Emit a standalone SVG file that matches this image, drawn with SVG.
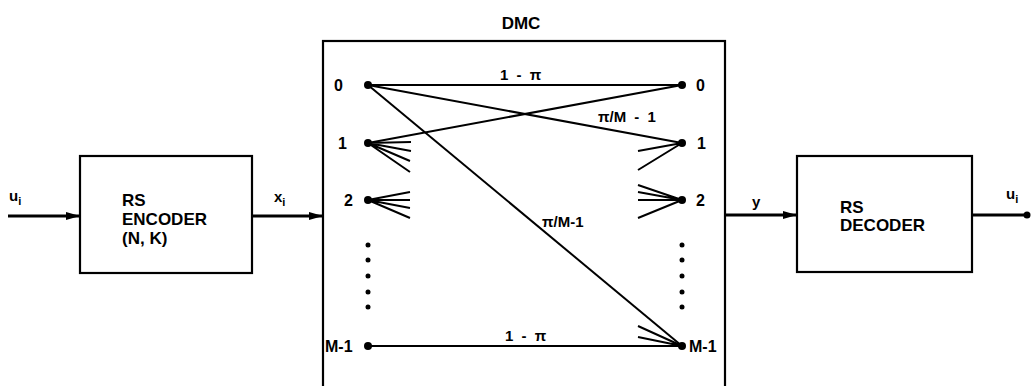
<svg xmlns="http://www.w3.org/2000/svg" width="1031" height="386" viewBox="0 0 1031 386">
<style>
text{font-family:"Liberation Sans",Arial,sans-serif;font-weight:bold;fill:#000}
.lbl{font-size:17px}
.nd{font-size:16px}
.sm{font-size:15px}
.pl{font-size:15px;word-spacing:4px}
.box{fill:none;stroke:#000;stroke-width:2.2}
.ln{stroke:#000;stroke-width:2;fill:none}
.th{stroke:#000;stroke-width:2.8;fill:none}
.dot{fill:#000}
</style>
<defs>
<marker id="arr" viewBox="0 0 14 10" refX="14" refY="5" markerWidth="14" markerHeight="10" markerUnits="userSpaceOnUse" orient="auto">
<path d="M0,1 L14,5 L0,9 Z" fill="#000"/>
</marker>
</defs>
<rect width="1031" height="386" fill="#fff"/>

<g id="encoder">
<rect class="box" x="80" y="156" width="172" height="117"/>
<text class="lbl" x="122" y="206">RS</text>
<text class="lbl" x="122" y="225">ENCODER</text>
<text class="lbl" x="122" y="244">(N, K)</text>
</g>

<g id="dmc">
<rect class="box" x="323" y="41" width="402" height="360"/>
<text class="lbl" x="521" y="29" text-anchor="middle">DMC</text>
</g>

<g id="decoder">
<rect class="box" x="797" y="156" width="175" height="116"/>
<text class="lbl" x="840" y="213">RS</text>
<text class="lbl" x="840" y="231">DECODER</text>
</g>

<g id="inputs-nodes">
<g id="in0"><circle class="dot" cx="368" cy="85" r="4"/><text class="nd" x="334" y="91">0</text></g>
<g id="in1"><circle class="dot" cx="368" cy="143" r="4"/><text class="nd" x="338" y="149">1</text></g>
<g id="in2"><circle class="dot" cx="368" cy="200" r="4"/><text class="nd" x="344" y="206">2</text></g>
<g id="inM"><circle class="dot" cx="368" cy="346" r="4"/><text class="nd" x="325" y="352">M-1</text></g>
<g id="out0"><circle class="dot" cx="682" cy="85" r="4"/><text class="nd" x="696" y="91">0</text></g>
<g id="out1"><circle class="dot" cx="682" cy="143" r="4"/><text class="nd" x="697" y="149">1</text></g>
<g id="out2"><circle class="dot" cx="682" cy="200" r="4"/><text class="nd" x="696" y="206">2</text></g>
<g id="outM"><circle class="dot" cx="682" cy="346" r="4"/><text class="nd" x="689" y="352">M-1</text></g>
<g id="ellipsis">
<circle class="dot" cx="368" cy="245" r="2.5"/><circle class="dot" cx="368" cy="260" r="2.5"/><circle class="dot" cx="368" cy="276" r="2.5"/><circle class="dot" cx="368" cy="292" r="2.5"/><circle class="dot" cx="368" cy="307" r="2.5"/>
<circle class="dot" cx="682" cy="245" r="2.5"/><circle class="dot" cx="682" cy="260" r="2.5"/><circle class="dot" cx="682" cy="276" r="2.5"/><circle class="dot" cx="682" cy="292" r="2.5"/><circle class="dot" cx="682" cy="307" r="2.5"/>
</g>
</g>

<g id="connectors">
<line class="th" x1="8" y1="216" x2="80" y2="216" marker-end="url(#arr)"/>
<text class="sm" x="9" y="201">u<tspan font-size="11" dy="4">i</tspan></text>
<line class="th" x1="252" y1="216" x2="323" y2="216" marker-end="url(#arr)"/>
<text class="sm" x="274" y="202">x<tspan font-size="11" dy="4">i</tspan></text>
<line class="th" x1="725" y1="215" x2="797" y2="215" marker-end="url(#arr)"/>
<text class="sm" x="752" y="207">y</text>
<line class="th" x1="972" y1="215" x2="1027" y2="215"/>
<circle class="dot" cx="1027" cy="215" r="3.5"/>
<text class="sm" x="1006" y="199">u<tspan font-size="11" dy="4">i</tspan></text>

<line class="ln" x1="368" y1="85" x2="682" y2="85"/>
<line class="ln" x1="368" y1="85" x2="682" y2="143"/>
<line class="ln" x1="368" y1="85" x2="682" y2="346"/>
<line class="ln" x1="368" y1="143" x2="682" y2="85"/>
<line class="ln" x1="368" y1="346" x2="682" y2="346"/>

<path class="ln" d="M368,143 L411,142 M368,143 L411,151 M368,143 L410,161 M368,143 L410,172"/>
<path class="ln" d="M368,200 L410,192 M368,200 L410,200 M368,200 L410,208 M368,200 L410,218"/>
<path class="ln" d="M682,143 L638,151 M682,143 L638,170"/>
<path class="ln" d="M682,200 L638,185 M682,200 L638,192 M682,200 L638,200 M682,200 L638,218"/>
<path class="ln" d="M682,346 L638,326 M682,346 L638,337"/>

<text class="pl" x="500" y="80">1 - π</text>
<text class="pl" x="598" y="122">π/M - 1</text>
<text class="sm" x="542" y="227">π/M-1</text>
<text class="pl" x="505" y="341">1 - π</text>
</g>
</svg>
